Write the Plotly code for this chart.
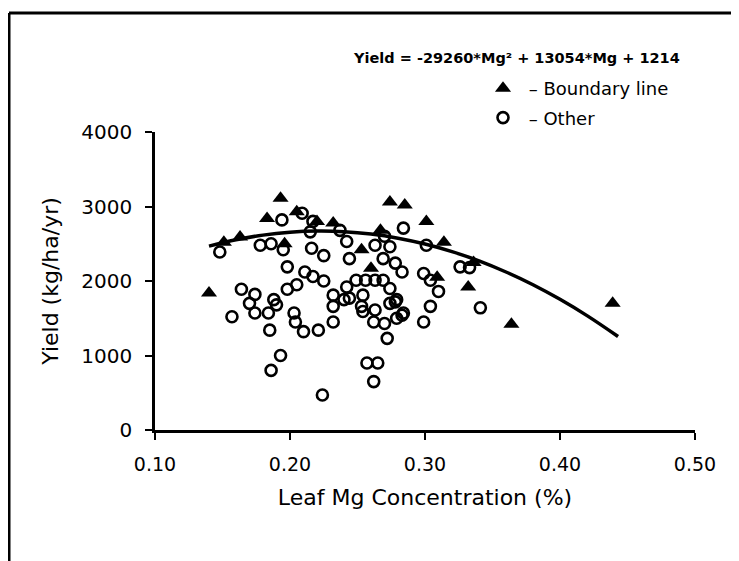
import plotly.graph_objects as go

# boundary line points (triangles)
bnd_mg = [0.140, 0.151, 0.163, 0.183, 0.193, 0.196, 0.205, 0.220, 0.232, 0.253,
          0.260, 0.267, 0.274, 0.285, 0.301, 0.309, 0.314, 0.332, 0.336, 0.364, 0.439]
bnd_yield = [1840, 2520, 2590, 2840, 3110, 2500, 2930, 2800, 2780, 2420,
             2170, 2680, 3060, 3020, 2800, 2050, 2520, 1920, 2250, 1420, 1700]

# other points (open circles)
oth_mg = [0.148, 0.157, 0.164, 0.170, 0.174, 0.174, 0.178, 0.184, 0.185, 0.186,
          0.186, 0.188, 0.190, 0.193, 0.194, 0.195, 0.198, 0.198, 0.203, 0.204,
          0.205, 0.209, 0.210, 0.211, 0.215, 0.216, 0.217, 0.217, 0.221, 0.224,
          0.225, 0.225, 0.232, 0.232, 0.232, 0.237, 0.242, 0.244, 0.242, 0.240,
          0.244, 0.249, 0.256, 0.263, 0.269, 0.254, 0.253, 0.254, 0.263, 0.262,
          0.270, 0.272, 0.257, 0.265, 0.262, 0.263, 0.274, 0.269, 0.278, 0.283,
          0.274, 0.279, 0.274, 0.284, 0.279, 0.283, 0.278, 0.284, 0.299, 0.299,
          0.301, 0.304, 0.304, 0.310, 0.326, 0.333, 0.341, 0.270]
oth_yield = [2390, 1520, 1890, 1700, 1820, 1570, 2480, 1570, 1340, 800,
             2500, 1750, 1680, 1000, 2820, 2420, 2190, 1890, 1570, 1450,
             1950, 2910, 1320, 2120, 2660, 2440, 2800, 2060, 1340, 470,
             2340, 2000, 1810, 1660, 1450, 2680, 2530, 2300, 1920, 1750,
             1770, 2010, 2010, 2010, 2010, 1810, 1660, 1590, 1610, 1450,
             1430, 1230, 900, 900, 650, 2480, 2460, 2300, 2240, 2120,
             1900, 1750, 1700, 1570, 1500, 1540, 1720, 2710, 2100, 1450,
             2480, 2010, 1660, 1860, 2190, 2180, 1640, 2600]

# fitted curve
fit_mg = [0.14, 0.16, 0.18, 0.20, 0.22, 0.24, 0.26, 0.28, 0.30, 0.32,
          0.34, 0.36, 0.38, 0.40, 0.42, 0.443]
fit_yield = [2468, 2554, 2616, 2654, 2670, 2662, 2630, 2575, 2497, 2395,
             2270, 2121, 1950, 1754, 1535, 1255]

equation = "Yield = -29260*Mg² + 13054*Mg + 1214"
font = "DejaVu Sans, Liberation Sans, sans-serif"

# page has an 8px body margin, so the figure is 8px smaller than the window
W, H = 731, 553
L, R, T, B = 147, 44, 124, 131
pw, ph = W - L - R, H - T - B


def px(fx):
    return (fx - L) / pw


def py(fy):
    return (H - B - fy) / ph


fig = go.Figure()
fig.add_trace(go.Scatter(x=oth_mg, y=oth_yield, mode="markers", name=" – Other",
                         legendgroup="o", legendrank=2,
                         marker=dict(symbol="circle-open", size=11, color="black",
                                     line=dict(width=2.6, color="black"))))
fig.add_trace(go.Scatter(x=bnd_mg, y=bnd_yield, mode="markers", name=" – Boundary line",
                         legendgroup="b", legendrank=1,
                         marker=dict(symbol="triangle-up", size=14, color="black")))
fig.add_trace(go.Scatter(x=fit_mg, y=fit_yield, mode="lines", showlegend=False,
                         line=dict(color="black", width=3.5, shape="spline")))

fig.update_layout(
    width=W, height=H,
    margin=dict(l=L, r=R, t=T, b=B),
    paper_bgcolor="white", plot_bgcolor="white",
    font=dict(family=font, color="black", size=19),
    showlegend=True,
    legend=dict(x=px(475), y=py(62), xanchor="left", yanchor="top",
                traceorder="grouped", font=dict(size=18),
                bgcolor="rgba(0,0,0,0)", itemwidth=30, tracegroupgap=3),
)
fig.update_xaxes(range=[0.1, 0.5], tickvals=[0.1, 0.2, 0.3, 0.4, 0.5],
                 tickformat=".2f", showgrid=False, zeroline=False, automargin=False,
                 showline=True, linecolor="black", linewidth=2.5,
                 ticks="outside", ticklen=7, tickwidth=2, tickcolor="black",
                 tickfont=dict(size=19), ticklabelstandoff=8,
                 title=dict(text="Leaf Mg Concentration (%)", font=dict(size=22), standoff=17))
fig.update_yaxes(range=[0, 4000], tickvals=[0, 1000, 2000, 3000, 4000],
                 showgrid=False, zeroline=False, automargin=False,
                 showline=True, linecolor="black", linewidth=2.5,
                 ticks="outside", ticklen=7, tickwidth=2, tickcolor="black",
                 tickfont=dict(size=20), ticklabelstandoff=9,
                 title=dict(text="Yield (kg/ha/yr)", font=dict(size=22), standoff=17))

fig.add_annotation(text="<b>" + equation + "</b>", xref="paper", yref="paper",
                   x=px(508), y=py(50), showarrow=False,
                   font=dict(size=14.5), xanchor="center", yanchor="middle")

# frame around the figure (top and left edges visible in the scan)
fig.add_shape(type="line", xref="paper", yref="paper",
              x0=px(1), x1=px(W), y0=py(5), y1=py(5),
              line=dict(color="black", width=3))
fig.add_shape(type="line", xref="paper", yref="paper",
              x0=px(1), x1=px(1), y0=py(5), y1=py(H),
              line=dict(color="black", width=3))

fig.write_html("out.html")
